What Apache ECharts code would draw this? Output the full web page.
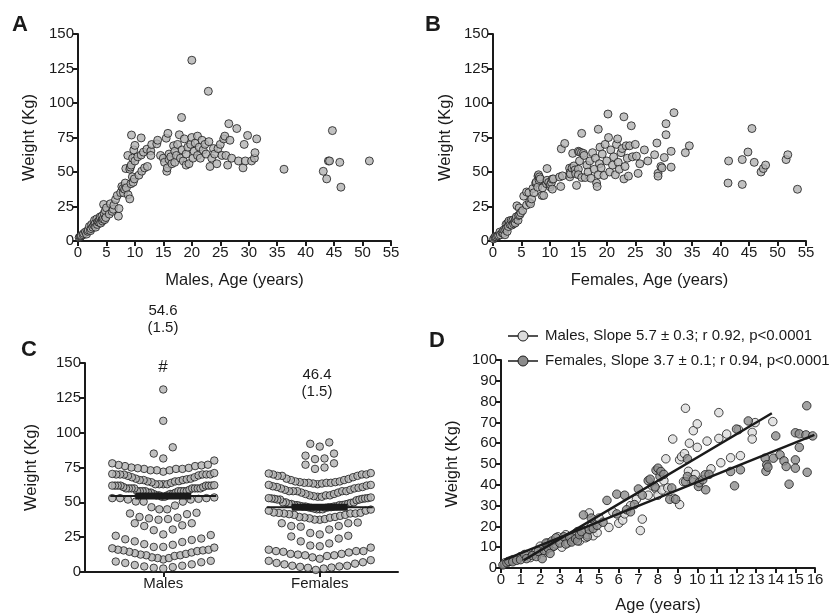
<!DOCTYPE html>
<html><head><meta charset="utf-8">
<script src="https://cdn.jsdelivr.net/npm/echarts@6/dist/echarts.min.js"></script>
<style>html,body{margin:0;padding:0;background:#fff}#c{width:831px;height:616px}</style>
</head><body><div id="c"></div>
<script>
// ---------- DATA ----------
// Children (0-16 y) [age, weight]
const maleChild = [[0.2,2.5],[0.35,3.0],[0.5,3.5],[0.6,4.0],[0.9,4.5],[1.0,5.5],[1.3,6.5],[1.5,5.0],[1.7,7.0],[1.8,8.0],[2.0,10.5],[2.2,7.5],[2.3,9.0],[2.4,12.0],[2.6,10.0],[2.8,11.5],[2.9,15.0],[3.0,12.5],[3.1,10.0],[3.3,16.0],[3.4,12.0],[3.5,14.0],[3.7,13.5],[3.8,15.5],[3.9,17.5],[4.0,13.0],[4.2,18.0],[4.3,14.5],[4.4,16.0],[4.5,26.5],[4.6,20.0],[4.7,15.5],[4.8,22.0],[4.9,17.0],[5.0,24.0],[5.5,19.5],[5.7,27.0],[6.0,21.5],[6.2,23.0],[6.3,26.0],[6.6,30.0],[6.9,33.0],[7.1,18.0],[7.2,23.5],[7.5,35.0],[7.7,39.5],[7.9,38.0],[8.0,35.0],[8.2,37.5],[8.3,42.0],[8.4,52.5],[8.5,38.5],[8.75,62.0],[8.8,33.5],[9.1,30.5],[9.1,52.0],[9.2,53.5],[9.3,41.5],[9.35,55.0],[9.4,76.8],[9.55,46.5],[9.6,60.0],[9.7,42.5],[9.8,66.0],[9.9,45.0],[10.0,58.0],[10.0,69.3],[10.5,61.0],[10.7,47.7],[11.1,74.7],[11.1,62.3],[11.2,50.6],[11.5,64.4],[11.7,53.0],[12.1,66.5],[12.2,54.0],[12.8,65.2],[12.8,62.0],[12.95,69.9],[13.85,70.4]];
const femaleChild = [[0.1,1.5],[0.3,2.5],[0.4,3.2],[0.6,3.0],[0.8,3.7],[1.0,4.0],[1.2,6.5],[1.3,4.5],[1.6,6.0],[1.8,5.5],[1.9,8.0],[2.1,4.5],[2.2,8.5],[2.3,12.0],[2.4,9.5],[2.5,7.0],[2.6,13.0],[2.7,10.5],[2.8,14.5],[3.0,12.0],[3.2,15.0],[3.3,11.5],[3.5,15.0],[3.6,12.5],[3.8,14.0],[3.9,13.0],[4.0,16.0],[4.1,17.5],[4.2,25.5],[4.4,15.0],[4.5,18.5],[4.6,24.0],[4.7,19.0],[4.9,20.5],[5.2,22.0],[5.4,32.5],[5.9,35.5],[5.9,26.0],[6.3,35.0],[6.4,28.0],[6.6,27.0],[6.8,30.5],[7.0,38.0],[7.2,35.0],[7.5,42.0],[7.6,42.7],[7.85,39.0],[7.9,47.0],[8.0,48.0],[8.1,44.0],[8.15,46.4],[8.3,45.0],[8.6,33.0],[8.7,38.5],[8.9,33.0],[9.4,41.5],[9.5,52.5],[9.5,44.0],[9.8,42.5],[10.06,39.2],[10.1,41.0],[10.28,42.4],[10.4,44.8],[10.43,37.6],[10.6,45.0],[11.7,46.4],[11.9,39.5],[12.0,66.8],[12.2,47.2],[12.6,70.7],[13.46,52.8],[13.5,46.5],[13.54,49.6],[13.6,48.5],[13.88,52.8],[14.0,63.5],[14.22,54.4],[14.42,51.5],[14.53,48.8],[14.68,40.3],[15.0,52.0],[15.0,48.0],[15.0,65.0],[15.2,64.5],[15.2,58.0],[15.54,64.0],[15.58,78.0],[15.6,46.0],[15.88,63.5]];
// Older subjects [age, weight]
const maleAdult = [[14.0,73],[14.5,62],[15.0,60],[15.2,57],[15.5,74.5],[15.6,50.5],[15.7,53],[15.8,78],[16.0,63],[16.0,59],[16.3,61],[16.5,56],[16.8,69],[17.0,57],[17.0,65],[17.3,62],[17.5,70],[17.8,77],[18.0,60],[18.2,89.5],[18.3,66],[18.5,58],[18.7,74],[19.0,55],[19.0,63],[19.3,68],[19.5,56],[19.8,70],[20.0,131],[20.0,75],[20.2,60],[20.4,65],[20.6,71],[21.0,62],[21.0,76],[21.3,68],[21.5,60],[21.8,73],[22.0,66],[22.3,70],[22.5,63],[22.9,108.5],[23.0,72],[23.2,54],[23.5,60],[23.8,67],[24.0,63],[24.4,56],[24.6,67],[25.0,70],[25.3,62],[25.6,74],[25.8,76],[26.0,62],[26.3,55],[26.5,85],[26.7,73],[27.0,60],[27.9,81.5],[28.2,58],[29.0,53],[29.2,70],[29.4,58],[29.8,76.5],[30.5,58],[31.0,60],[31.1,64],[31.4,74],[36.2,52],[43.1,50.5],[43.7,45],[44.0,58],[44.2,58],[44.7,80],[46.0,57],[46.2,39],[51.2,58]];
const femaleAdult = [[16.0,62],[16.2,46],[16.5,55],[16.7,50],[17.0,58],[17.2,45.5],[17.5,64],[17.8,52],[18.0,60],[18.2,42],[18.3,39.5],[18.5,81],[18.5,48],[18.7,56],[18.8,68],[19.0,53],[19.2,63],[19.5,47.5],[19.7,70],[20.0,58],[20.2,92],[20.3,75],[20.5,50],[20.7,66],[21.0,55],[21.2,61],[21.5,48],[21.7,70],[21.9,74],[22.0,57],[22.2,52],[22.5,64],[22.7,67],[23.0,90],[23.0,45],[23.2,54],[23.4,69],[23.6,60],[23.8,47],[24.0,69],[24.3,83.5],[24.5,61],[25.0,70],[25.2,61.5],[25.5,49],[25.8,56],[26.6,66],[27.2,58],[28.4,62.5],[28.8,71],[29.0,49],[29.0,47],[29.5,54],[29.7,53],[30.1,60.5],[30.4,77],[30.4,85],[31.3,65],[31.3,53.5],[31.8,93],[33.8,64],[34.5,69],[41.3,42],[41.4,58],[43.8,59],[43.8,41],[44.8,64.5],[45.5,81.5],[45.9,57],[47.1,50],[47.5,52.5],[47.9,55],[51.5,59],[51.8,62.5],[53.5,37.5]];
// Panel C summary
const groups = ['Males', 'Females'];
const groupMeans = [54.6, 46.4];
const groupSEM = [1.5, 1.5];
// Panel D regression line end points [age, weight]
const maleFitLine = [[1.15, 3.7], [13.8, 74.4]];
const femaleFitLine = [[0.2, 4.0], [15.97, 64.0]];
const legendD = ['Males, Slope 5.7 \u00b1 0.3; r 0.92, p<0.0001', 'Females, Slope 3.7 \u00b1 0.1; r 0.94, p<0.0001'];
const ageTicks = {max: 55, interval: 5};
const weightTicks = {max: 150, interval: 25};

// ---------- CHART ----------
const FONT = '"Liberation Sans", Arial, Helvetica, sans-serif';
const INK = '#1a1a1a';
const males = maleChild.concat(maleAdult);
const females = femaleChild.concat(femaleAdult);

function axisBase(extra) {
  return Object.assign({
    type: 'value',
    axisLine: {show: true, onZero: false, lineStyle: {color: INK, width: 2}},
    axisTick: {show: true, length: 5, lineStyle: {color: INK, width: 2}},
    axisLabel: {color: INK, fontSize: 15, fontFamily: FONT, margin: 4},
    splitLine: {show: false},
    nameLocation: 'middle',
    nameTextStyle: {color: INK, fontSize: 16.5, fontFamily: FONT}
  }, extra);
}

// beeswarm: bin by weight, spread points horizontally, lowest value in the centre
function swarm(values, center, binKg, step, maxHalf) {
  const bins = {};
  values.forEach(v => { const b = Math.floor(v / binKg); (bins[b] = bins[b] || []).push(v); });
  const out = [];
  Object.keys(bins).forEach(k => {
    const arr = bins[k].slice().sort((a, b) => a - b);
    const n = arr.length;
    const s = n > 1 ? Math.min(step, 2 * maxHalf / (n - 1)) : step;
    const pos = [];
    for (let j = 0; j < n; j++) pos.push((j - (n - 1) / 2) * s);
    const ordered = [];
    let l = pos.filter(p => p < 0).sort((a, b) => b - a);
    let r = pos.filter(p => p >= 0).sort((a, b) => a - b);
    let turn = r.length > l.length ? 'r' : 'l';
    while (l.length || r.length) {
      if ((turn === 'r' && r.length) || !l.length) { ordered.push(r.shift()); turn = 'l'; }
      else { ordered.push(l.shift()); turn = 'r'; }
    }
    arr.forEach((v, i) => out.push([center + ordered[i], v]));
  });
  return out;
}

const chart = echarts.init(document.getElementById('c'), null, {renderer: 'canvas'});
const unitC = 4 / 313; // value units per pixel on panel C x axis
const ptStyle = {color: '#b2b2b2', borderColor: INK, borderWidth: 1};

const option = {
  animation: false,
  backgroundColor: '#fff',
  grid: [
    {left: 78, top: 34, width: 313, height: 207},
    {left: 493, top: 34, width: 313, height: 207},
    {left: 85, top: 363, width: 313, height: 209},
    {left: 501, top: 360, width: 314, height: 208}
  ],
  xAxis: [
    axisBase({gridIndex: 0, min: 0, max: ageTicks.max, interval: ageTicks.interval, name: 'Males, Age (years)', nameGap: 31}),
    axisBase({gridIndex: 1, min: 0, max: ageTicks.max, interval: ageTicks.interval, name: 'Females, Age (years)', nameGap: 31}),
    axisBase({gridIndex: 2, min: 0, max: 4, interval: 1,
      axisTick: {show: true, length: 5, customValues: [1, 3], lineStyle: {color: INK, width: 2}},
      axisLabel: {color: INK, fontSize: 15, fontFamily: FONT, margin: 4, customValues: [1, 3],
        formatter: v => v === 1 ? groups[0] : groups[1]}}),
    axisBase({gridIndex: 3, min: 0, max: 16, interval: 1, name: 'Age (years)', nameGap: 29})
  ],
  yAxis: [
    axisBase({gridIndex: 0, min: 0, max: weightTicks.max, interval: weightTicks.interval, name: 'Weight (Kg)', nameGap: 40}),
    axisBase({gridIndex: 1, min: 0, max: weightTicks.max, interval: weightTicks.interval, name: 'Weight (Kg)', nameGap: 39}),
    axisBase({gridIndex: 2, min: 0, max: weightTicks.max, interval: weightTicks.interval, name: 'Weight (Kg)', nameGap: 45}),
    axisBase({gridIndex: 3, min: 0, max: 100, interval: 10, name: 'Weight (Kg)', nameGap: 40})
  ],
  series: [
    {type: 'scatter', xAxisIndex: 0, yAxisIndex: 0, data: males, symbolSize: 8, itemStyle: ptStyle},
    {type: 'scatter', xAxisIndex: 1, yAxisIndex: 1, data: females, symbolSize: 8, itemStyle: ptStyle},
    {type: 'scatter', xAxisIndex: 2, yAxisIndex: 2, data: swarm(males.map(d => d[1]), 1, 9, 9.5 * unitC, 51 * unitC), symbolSize: 7.5, itemStyle: ptStyle},
    {type: 'scatter', xAxisIndex: 2, yAxisIndex: 2, data: swarm(females.map(d => d[1]), 3, 9, 9.5 * unitC, 51 * unitC), symbolSize: 7.5, itemStyle: ptStyle}
  ],
  graphic: []
};
// mean lines panel C
[1, 3].forEach((cx, i) => {
  option.series.push({type: 'line', xAxisIndex: 2, yAxisIndex: 2, symbol: 'none', z: 5,
    data: [[cx - 53 * unitC, groupMeans[i]], [cx + 53 * unitC, groupMeans[i]]], lineStyle: {color: INK, width: 2}});
  option.series.push({type: 'line', xAxisIndex: 2, yAxisIndex: 2, symbol: 'none', z: 6,
    data: [[cx - 28 * unitC, groupMeans[i]], [cx + 28 * unitC, groupMeans[i]]], lineStyle: {color: INK, width: 7}});
});
// panel D
option.series.push({type: 'scatter', xAxisIndex: 3, yAxisIndex: 3, data: maleChild, symbolSize: 8.5,
  itemStyle: {color: '#dcdcdc', borderColor: INK, borderWidth: 1}});
option.series.push({type: 'scatter', xAxisIndex: 3, yAxisIndex: 3, data: femaleChild, symbolSize: 8.5,
  itemStyle: {color: '#8c8c8c', borderColor: INK, borderWidth: 1}});
option.series.push({type: 'line', xAxisIndex: 3, yAxisIndex: 3, symbol: 'none', z: 5, data: maleFitLine, lineStyle: {color: INK, width: 2.5}});
option.series.push({type: 'line', xAxisIndex: 3, yAxisIndex: 3, symbol: 'none', z: 5, data: femaleFitLine, lineStyle: {color: INK, width: 2.5}});

// panel letters & annotations
const txt = (x, y, t, extra) => Object.assign({type: 'text', x: x, y: y, style: Object.assign({text: t, fill: INK, font: '15px ' + FONT, align: 'center', verticalAlign: 'middle'}, extra || {})});
option.graphic.push(txt(20, 25, 'A', {font: 'bold 22px ' + FONT}));
option.graphic.push(txt(433, 25, 'B', {font: 'bold 22px ' + FONT}));
option.graphic.push(txt(29, 350, 'C', {font: 'bold 22px ' + FONT}));
option.graphic.push(txt(437, 341, 'D', {font: 'bold 22px ' + FONT}));
option.graphic.push(txt(163, 311, groupMeans[0].toFixed(1)));
option.graphic.push(txt(163, 328, '(' + groupSEM[0].toFixed(1) + ')'));
option.graphic.push(txt(163, 367, '#', {font: '17px ' + FONT}));
option.graphic.push(txt(317, 375, groupMeans[1].toFixed(1)));
option.graphic.push(txt(317, 392, '(' + groupSEM[1].toFixed(1) + ')'));
// legend D
[[336, '#dcdcdc'], [361, '#8c8c8c']].forEach((r, i) => {
  option.graphic.push({type: 'line', shape: {x1: 508, y1: r[0], x2: 538, y2: r[0]}, style: {stroke: INK, lineWidth: 1.5}});
  option.graphic.push({type: 'circle', shape: {cx: 523, cy: r[0], r: 5}, style: {fill: r[1], stroke: INK, lineWidth: 1}});
  option.graphic.push(txt(545, r[0], legendD[i], {align: 'left', font: '15px ' + FONT}));
});
chart.setOption(option);
</script></body></html>
